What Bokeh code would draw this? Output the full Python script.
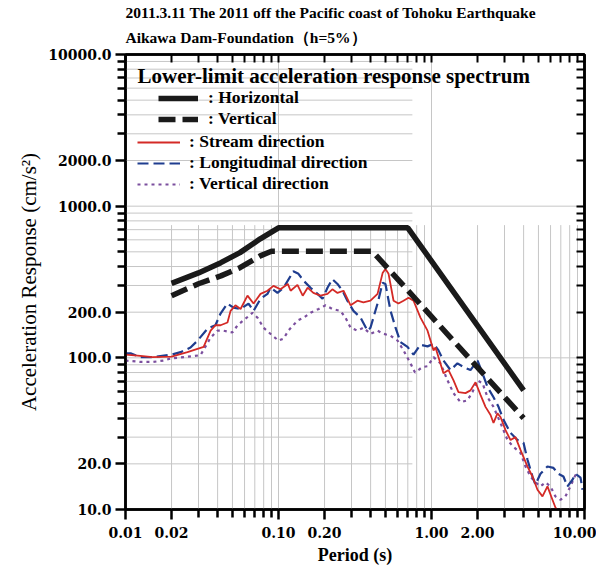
from bokeh.plotting import figure
from bokeh.models import (FixedTicker, LogAxis, Label, Legend, LegendItem, Title,
                          CustomJSTickFormatter)
from bokeh.embed import file_html
from bokeh.resources import INLINE

# ---------------- data ----------------
limit_h_period = [0.02, 0.03, 0.042, 0.056, 0.076, 0.10, 0.70, 4.0]
limit_h_acc = [310, 363, 424, 494, 609, 720, 720, 61]

limit_v_period = [0.02, 0.03, 0.042, 0.056, 0.076, 0.09, 0.41, 4.0]
limit_v_acc = [257, 308, 347, 393, 470, 505, 505, 40]

stream_period = [0.010, 0.0125, 0.015, 0.020, 0.0254, 0.0324, 0.036, 0.0387, 0.0418, 0.0464,
                 0.0486, 0.0523, 0.0565, 0.0627, 0.0687, 0.0763, 0.0847, 0.0927, 0.103, 0.115,
                 0.120, 0.133, 0.144, 0.155, 0.169, 0.188, 0.209, 0.225, 0.243, 0.266,
                 0.296, 0.328, 0.359, 0.399, 0.444, 0.479, 0.500, 0.524, 0.565, 0.608,
                 0.656, 0.708, 0.763, 0.847, 0.942, 1.031, 1.062, 1.197, 1.292, 1.393,
                 1.500, 1.668, 1.798, 1.940, 2.091, 2.254, 2.432, 2.543, 2.699, 2.825,
                 3.047, 3.284, 3.539, 3.816, 4.241, 4.571, 4.928, 5.313, 5.727, 6.174,
                 6.458, 6.800]
stream_acc = [105, 103, 101, 102, 109, 118, 151, 164, 164, 171,
              204, 222, 210, 257, 228, 264, 277, 298, 283, 307,
              277, 303, 257, 290, 268, 257, 264, 283, 268, 277,
              222, 238, 232, 238, 264, 362, 385, 358, 238, 228,
              238, 249, 238, 184, 151, 112, 117, 79, 83, 71,
              59.5, 58.5, 61, 69, 57, 47.5, 42, 37.2, 43, 40.7,
              33.4, 28.7, 30, 24.7, 19.2, 16.5, 13.5, 12.2, 14.2, 11.6,
              10.3, 9.5]

longit_period = [0.010, 0.0108, 0.0125, 0.0152, 0.020, 0.0229, 0.0266, 0.0296, 0.0344, 0.0387,
                 0.0418, 0.0464, 0.0508, 0.0565, 0.0637, 0.0687, 0.0763, 0.0847, 0.0887, 0.0985,
                 0.108, 0.125, 0.135, 0.146, 0.162, 0.180, 0.194, 0.209, 0.225, 0.243,
                 0.262, 0.282, 0.309, 0.344, 0.382, 0.399, 0.444, 0.479, 0.500, 0.540,
                 0.582, 0.627, 0.697, 0.763, 0.847, 0.942, 1.031, 1.111, 1.197, 1.331,
                 1.478, 1.619, 1.798, 2.000, 2.155, 2.324, 2.543, 2.742, 2.956, 3.284,
                 3.647, 3.993, 4.241, 4.571, 4.782, 5.155, 5.727, 6.268, 6.756, 7.283,
                 7.736, 8.345, 8.730, 9.420, 9.710]
longit_acc = [107, 107, 101, 101, 105, 109, 117, 130, 156, 164,
              196, 228, 214, 210, 228, 204, 245, 264, 290, 268,
              290, 372, 358, 322, 290, 264, 245, 290, 330, 307,
              277, 238, 204, 184, 151, 158, 228, 313, 307, 204,
              158, 127, 118, 105, 122, 119, 124, 112, 96, 83,
              92, 87, 83, 96, 79, 64, 55, 47.5, 39, 32,
              28.7, 27.5, 21.3, 16.5, 14.6, 17.2, 19.2, 18.8, 17.2, 16.5,
              14.2, 15.7, 17.2, 16.2, 13.5]

vert_period = [0.010, 0.0125, 0.0152, 0.0177, 0.0197, 0.0309, 0.036, 0.0399, 0.0437, 0.050,
               0.054, 0.0608, 0.0676, 0.0729, 0.0798, 0.0914, 0.100, 0.108, 0.116, 0.133,
               0.146, 0.162, 0.183, 0.203, 0.225, 0.254, 0.274, 0.296, 0.328, 0.359,
               0.399, 0.444, 0.486, 0.540, 0.600, 0.656, 0.729, 0.780, 0.873, 0.942,
               1.031, 1.145, 1.273, 1.393, 1.548, 1.718, 1.853, 2.000, 2.155, 2.324,
               2.543, 2.825, 3.140, 3.434, 3.816, 4.115, 4.436, 4.782, 5.155, 5.558,
               5.991, 6.458, 6.963, 7.506, 8.093, 8.730, 9.141]
vert_acc = [96, 94, 94, 96, 99, 104, 136, 151, 151, 147,
            164, 181, 198, 184, 158, 140, 130, 134, 151, 176,
            184, 198, 210, 222, 210, 204, 184, 158, 151, 158,
            144, 151, 144, 140, 130, 112, 92, 80, 87, 88,
            101, 92, 71, 58.5, 51, 52.5, 59.5, 71, 68, 55,
            47.5, 37.2, 28.7, 25.9, 23.6, 19.2, 16.5, 15.1, 14.2, 15.1,
            14.2, 12.2, 11.6, 12.2, 14.2, 16.9, 16.5]

x_major = [0.01, 0.02, 0.1, 0.2, 1.0, 2.0, 10.0]
x_minor = [0.03, 0.04, 0.05, 0.06, 0.07, 0.08, 0.09,
           0.3, 0.4, 0.5, 0.6, 0.7, 0.8, 0.9,
           3.0, 4.0, 5.0, 6.0, 7.0, 8.0, 9.0]
y_major = [10, 20, 100, 200, 1000, 2000, 10000]
y_minor = [30, 40, 50, 60, 70, 80, 90,
           300, 400, 500, 600, 700, 800, 900,
           3000, 4000, 5000, 6000, 7000, 8000, 9000]

title_line1 = "2011.3.11 The 2011 off the Pacific coast of Tohoku Earthquake"
title_line2 = "Aikawa Dam-Foundation（h=5%）"
legend_heading = "Lower-limit acceleration response spectrum"

# ---------------- figure ----------------
SERIF = "Liberation Serif"
TICKFONT = "DejaVu Serif"
X0, X1, Y0, Y1 = 0.01, 10.0, 10.0, 10000.0

p = figure(width=596, height=567, x_axis_type="log", y_axis_type="log",
           x_range=(X0, X1), y_range=(Y0, Y1), output_backend="svg",
           toolbar_location=None, min_border_left=125, min_border_right=12,
           min_border_top=54, min_border_bottom=57)
p.background_fill_color = "white"
p.border_fill_color = "white"
p.outline_line_color = "black"
p.outline_line_width = 2.5
p.xgrid.visible = False
p.ygrid.visible = False

# partial grid like the reference
GRID = "#c6c6c6"
decade_x = [0.1, 1.0]
decade_y = [100, 1000]
vx = [x for x in x_major + x_minor if x not in (X0, X1) and x not in decade_x]
p.segment(x0=vx, x1=vx, y0=[Y0] * len(vx), y1=[750] * len(vx),
          line_color=GRID, line_width=1, level="underlay")
p.segment(x0=decade_x, x1=decade_x, y0=[Y0] * 2, y1=[Y1] * 2,
          line_color=GRID, line_width=1, level="underlay")
hy = [y for y in y_major + y_minor if y not in (Y0, Y1) and y not in decade_y]
p.segment(x0=[X0] * len(hy), x1=[0.75] * len(hy), y0=hy, y1=hy,
          line_color=GRID, line_width=1, level="underlay")
p.segment(x0=[X0] * 2, x1=[X1] * 2, y0=decade_y, y1=decade_y,
          line_color=GRID, line_width=1, level="underlay")

# curves
r_v = p.line(vert_period, vert_acc, line_color="#7b4f9e", line_width=2.2, line_dash="3 4")
r_l = p.line(longit_period, longit_acc, line_color="#1f3d8f", line_width=2.2, line_dash="11 5")
r_s = p.line(stream_period, stream_acc, line_color="#d42a26", line_width=1.8)
r_h = p.line(limit_h_period, limit_h_acc, line_color="#1a1a1a", line_width=5.5)
r_lv = p.line(limit_v_period, limit_v_acc, line_color="#1a1a1a", line_width=5.5, line_dash="17 7")

# axes
xa = p.xaxis[0]
xa.ticker = FixedTicker(ticks=x_major, minor_ticks=x_minor)
xa.formatter = CustomJSTickFormatter(code="return tick.toFixed(2);")
ya = p.yaxis[0]
ya.ticker = FixedTicker(ticks=y_major, minor_ticks=y_minor)
ya.formatter = CustomJSTickFormatter(code="return tick.toFixed(1);")
for ax in (xa, ya):
    ax.axis_line_width = 2.5
    ax.major_tick_line_width = 2.5
    ax.minor_tick_line_width = 2.5
    ax.major_tick_in = 0
    ax.minor_tick_in = 0
    ax.major_tick_out = 10
    ax.minor_tick_out = 8
    ax.major_label_text_font = TICKFONT
    ax.major_label_text_font_style = "bold"
    ax.major_label_text_font_size = "14px"
    ax.major_label_text_color = "black"
    ax.axis_label_text_font = SERIF
    ax.axis_label_text_color = "black"
xa.major_label_standoff = 7
xa.axis_label = "Period (s)"
xa.axis_label_text_font_style = "bold"
xa.axis_label_text_font_size = "18px"
xa.axis_label_standoff = 4
ya.major_label_standoff = 4
ya.axis_label = "Acceleration Response (cm/s²)"
ya.axis_label_text_font_style = "normal"
ya.axis_label_text_font_size = "21px"
ya.axis_label_standoff = 4

blank = CustomJSTickFormatter(code="return '';")
for side in ("right", "above"):
    ticks = (y_major + y_minor) if side == "right" else (x_major + x_minor)
    ax2 = LogAxis(ticker=FixedTicker(ticks=ticks, minor_ticks=[]), formatter=blank,
                  major_label_text_font_size="0px", major_label_standoff=0,
                  axis_line_width=2.5, major_tick_line_width=2,
                  major_tick_in=8, major_tick_out=0, minor_tick_in=0, minor_tick_out=0)
    p.add_layout(ax2, side)

# titles (added bottom-up)
for txt, so, va in ((title_line2, 14, "top"), (title_line1, 2, "bottom")):
    p.add_layout(Title(text=txt, align="left", text_font=SERIF, text_font_size="15.5px",
                       text_font_style="bold", text_color="black", standoff=so,
                       vertical_align=va), "above")

# legend
p.add_layout(Label(x=12, y=434, x_units="screen", y_units="screen", text=legend_heading,
                   text_font=SERIF, text_font_size="21px", text_font_style="bold",
                   text_color="black", text_baseline="middle"))
leg1 = Legend(items=[LegendItem(label=": Horizontal", renderers=[r_h]),
                     LegendItem(label=": Vertical", renderers=[r_lv])],
              location=(33, 380), orientation="vertical", glyph_width=40, glyph_height=20,
              label_height=20, spacing=0, padding=0, margin=0, label_standoff=10,
              label_text_font=SERIF, label_text_font_size="17.5px", label_text_font_style="bold",
              label_text_color="black", background_fill_alpha=0, border_line_alpha=0)
leg2 = Legend(items=[LegendItem(label=": Stream direction", renderers=[r_s]),
                     LegendItem(label=": Longitudinal direction", renderers=[r_l]),
                     LegendItem(label=": Vertical direction", renderers=[r_v])],
              location=(12, 315), orientation="vertical", glyph_width=43, glyph_height=20,
              label_height=20, spacing=0, padding=0, margin=0, label_standoff=9,
              label_text_font=SERIF, label_text_font_size="17.5px", label_text_font_style="bold",
              label_text_color="black", background_fill_alpha=0, border_line_alpha=0)
p.add_layout(leg1, "center")
p.add_layout(leg2, "center")

open("out.html", "w").write(file_html(p, INLINE))
